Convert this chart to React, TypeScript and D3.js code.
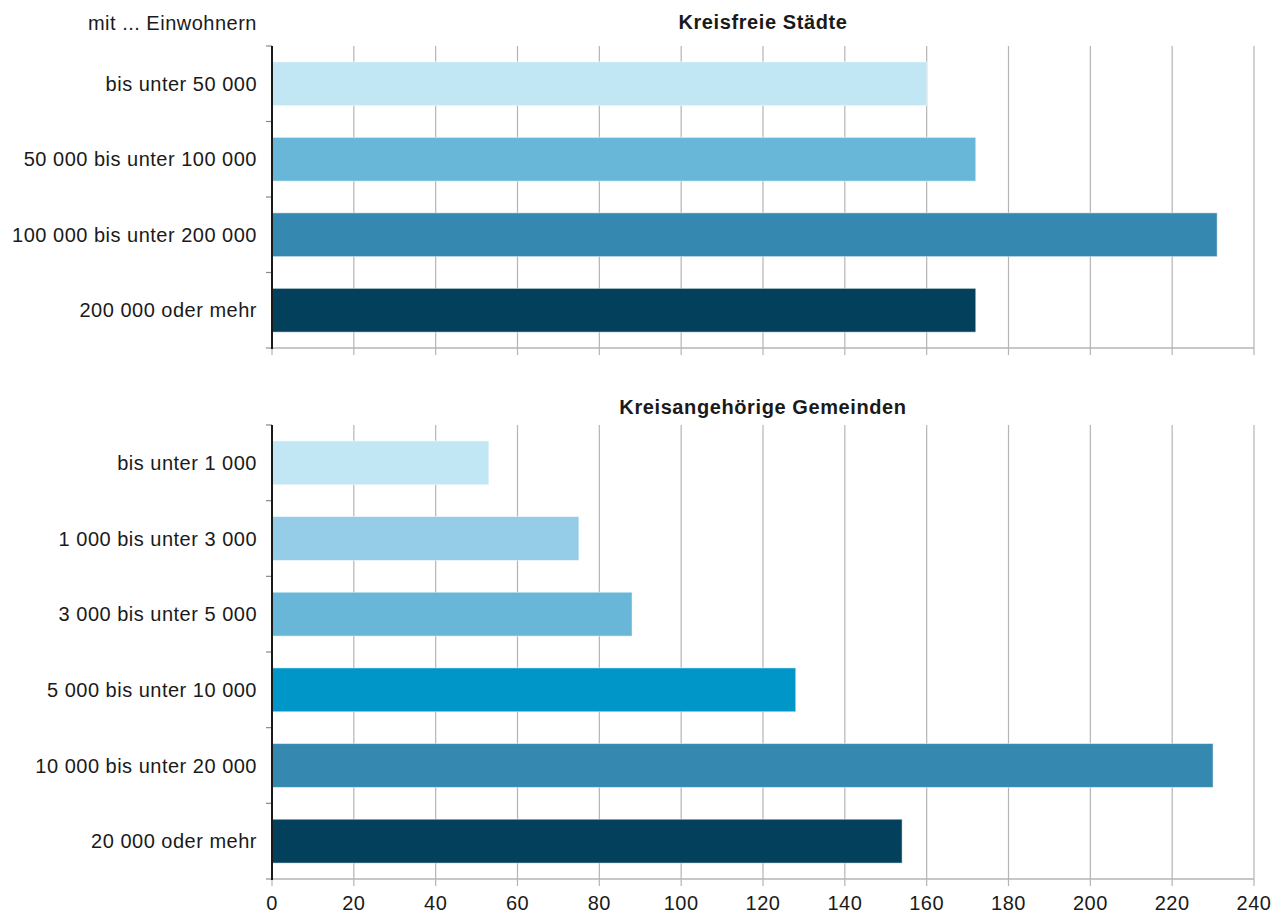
import React from "react";
import * as d3 from "d3";

const topCategories = ["bis unter 50 000", "50 000 bis unter 100 000", "100 000 bis unter 200 000", "200 000 oder mehr"];
const topValues = [160, 172, 231, 172];
const topColors = ["#c1e7f5", "#68b7d8", "#3588b0", "#02405c"];

const bottomCategories = ["bis unter 1 000", "1 000 bis unter 3 000", "3 000 bis unter 5 000", "5 000 bis unter 10 000", "10 000 bis unter 20 000", "20 000 oder mehr"];
const bottomValues = [53, 75, 88, 128, 230, 154];
const bottomColors = ["#c1e7f5", "#95cce7", "#68b7d8", "#0096c8", "#3588b0", "#02405c"];

const xTicks = [0, 20, 40, 60, 80, 100, 120, 140, 160, 180, 200, 220, 240];

const FONT = "'Liberation Sans', Arial, Helvetica, sans-serif";
const W = 1276;
const H = 914;
const X0 = 272;
const X1 = 1254;

const x = d3.scaleLinear().domain([0, 240]).range([X0, X1]);

function Panel(props: {
  cats: string[];
  vals: number[];
  colors: string[];
  y0: number;
  y1: number;
  title: string;
  titleY: number;
  showTickLabels: boolean;
}) {
  const { cats, vals, colors, y0, y1, title, titleY, showTickLabels } = props;
  const y = d3.scaleBand<string>().domain(cats).range([y0, y1]).paddingInner(0.42).paddingOuter(0.21);
  const step = y.step();
  const boundaries = d3.range(cats.length + 1).map((i) => y0 + i * step);
  const grid = "#b4b4b4";
  return (
    <g>
      <text x={(X0 + X1) / 2} y={titleY} textAnchor="middle" fontFamily={FONT} fontSize={20} fontWeight="bold" letterSpacing={0.6} fill="#1a1a1a">
        {title}
      </text>
      {xTicks.map((t) =>
        t === 0 ? null : (
          <line key={"g" + t} x1={x(t)} x2={x(t)} y1={y0} y2={y1 + 7} stroke={grid} strokeWidth={1.2} />
        )
      )}
      <line x1={x(0)} x2={x(0)} y1={y1} y2={y1 + 7} stroke={grid} strokeWidth={1.2} />
      {boundaries.map((b, i) => (
        <line key={"b" + i} x1={X0 - 6} x2={X0} y1={b} y2={b} stroke={i === cats.length ? grid : "#888"} strokeWidth={1.2} />
      ))}
      <line x1={X0 - 6} x2={X1} y1={y1} y2={y1} stroke={grid} strokeWidth={1.5} />
      {cats.map((c, i) => (
        <rect key={c} x={x(0)} y={y(c)} width={x(vals[i]) - x(0)} height={y.bandwidth()} fill={colors[i]} stroke="rgba(255,255,255,0.5)" strokeWidth={1} />
      ))}
      {cats.map((c) => (
        <text key={"l" + c} x={257} y={(y(c) as number) + y.bandwidth() / 2 + 7} textAnchor="end" fontFamily={FONT} fontSize={20} letterSpacing={0.5} fill="#1a1a1a">
          {c}
        </text>
      ))}
      <line x1={X0} x2={X0} y1={y0} y2={y1 + 1} stroke="#1a1a1a" strokeWidth={2} />
      {showTickLabels &&
        xTicks.map((t) => (
          <text key={"t" + t} x={x(t)} y={910} textAnchor="middle" fontFamily={FONT} fontSize={20} letterSpacing={0.5} fill="#1a1a1a">
            {t}
          </text>
        ))}
    </g>
  );
}

export default function App() {
  return (
    <svg width={W} height={H} style={{ position: "absolute", left: 0, top: 0, background: "#fff" }}>
      <rect x={0} y={0} width={W} height={H} fill="#fff" />
      <text x={257} y={30} textAnchor="end" fontFamily={FONT} fontSize={20} letterSpacing={0.5} fill="#1a1a1a">
        mit ... Einwohnern
      </text>
      <Panel cats={topCategories} vals={topValues} colors={topColors} y0={46} y1={348} title="Kreisfreie Städte" titleY={29} showTickLabels={false} />
      <Panel cats={bottomCategories} vals={bottomValues} colors={bottomColors} y0={425} y1={879} title="Kreisangehörige Gemeinden" titleY={414} showTickLabels={true} />
    </svg>
  );
}
